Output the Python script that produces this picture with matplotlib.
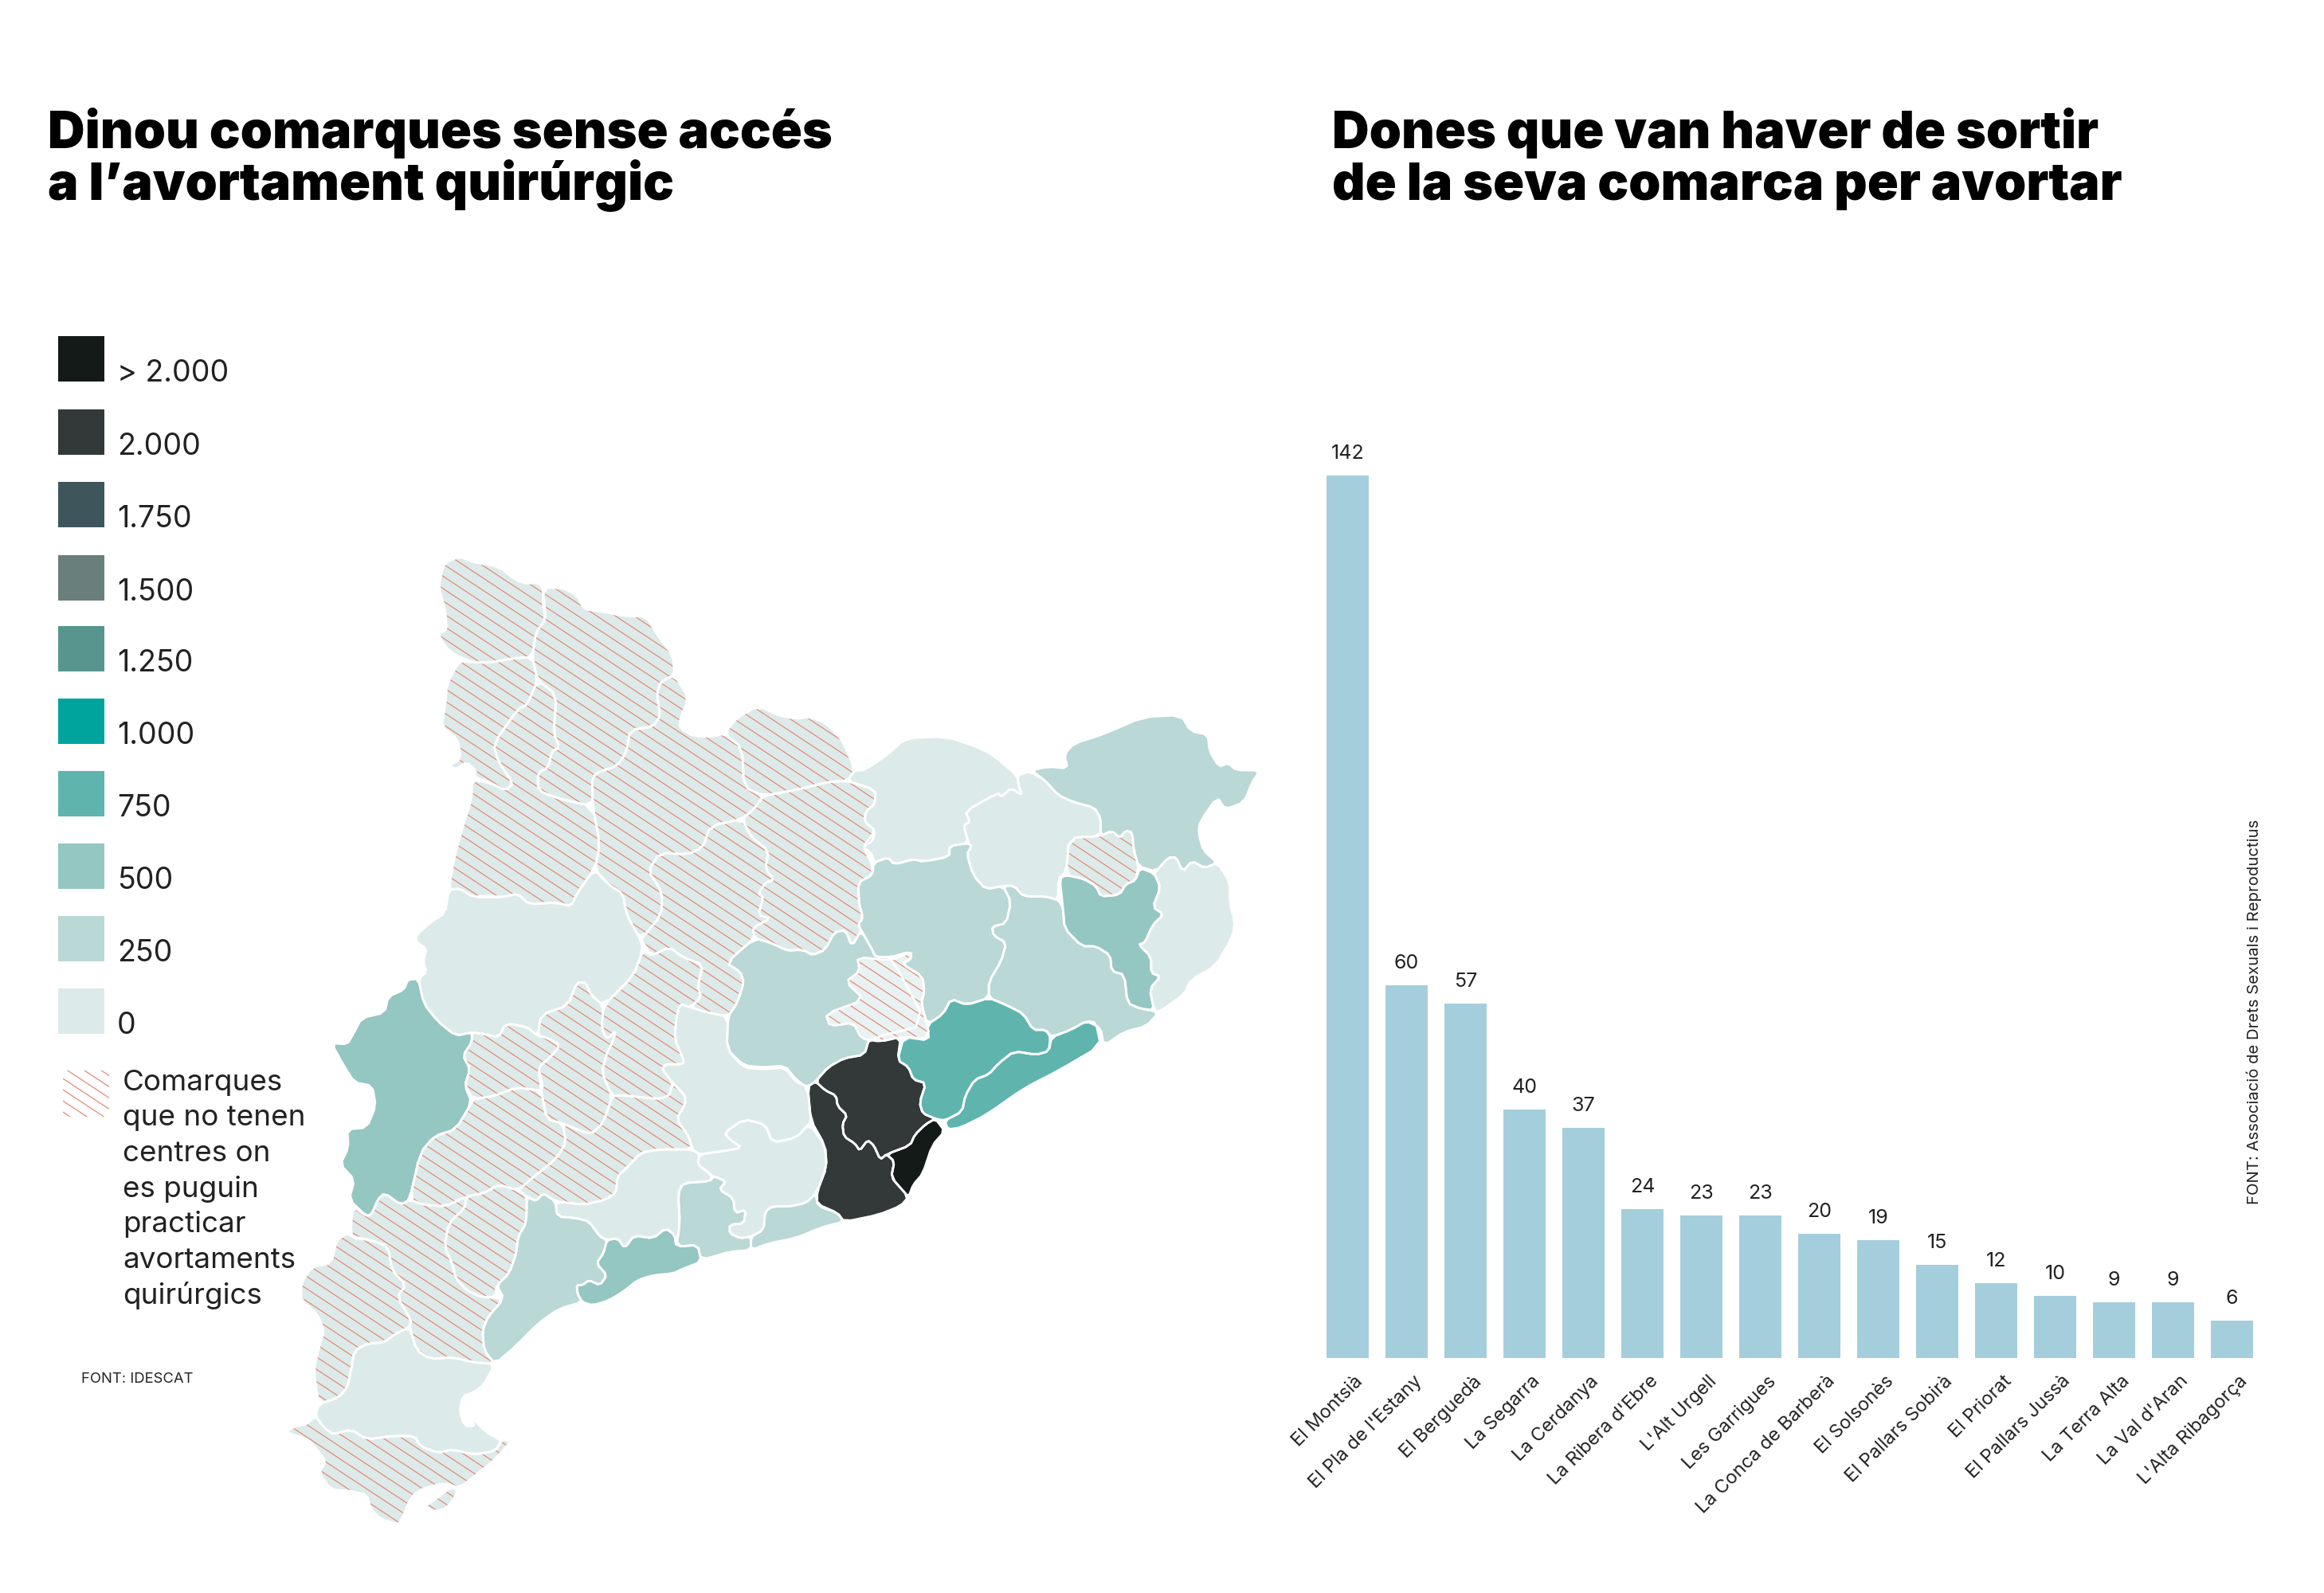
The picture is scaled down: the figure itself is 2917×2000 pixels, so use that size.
import matplotlib
matplotlib.use('Agg')
import matplotlib.pyplot as plt
import numpy as np
from matplotlib.collections import LineCollection
from matplotlib.patches import Polygon, Rectangle

# bar chart data
comarques = ['El Montsià', "El Pla de l'Estany", 'El Berguedà', 'La Segarra', 'La Cerdanya',
             "La Ribera d'Ebre", "L'Alt Urgell", 'Les Garrigues', 'La Conca de Barberà',
             'El Solsonès', 'El Pallars Sobirà', 'El Priorat', 'El Pallars Jussà',
             'La Terra Alta', "La Val d'Aran", "L'Alta Ribagorça"]
dones = [142, 60, 57, 40, 37, 24, 23, 23, 20, 19, 15, 12, 10, 9, 9, 6]

# legend
legend_labels = ['> 2.000', '2.000', '1.750', '1.500', '1.250', '1.000', '750', '500', '250', '0']
legend_colors = ['#141a18', '#333838', '#3e555c', '#697f7b', '#59958f', '#00a49c', '#5fb4ae', '#94c6c2', '#b9d8d6', '#dcebea']
legend_note = ['Comarques', 'que no tenen', 'centres on', 'es puguin', 'practicar', 'avortaments', 'quirúrgics']

C0, C250, C500, C750, C2000, CMAX = '#dcebea', '#b9d8d6', '#94c6c2', '#5fb4ae', '#333838', '#141a18'
HATCH = '#e58a75'

# map outlines, three sets of local coordinates
# north-west part
val_aran = [(490,60),(530,42),(570,58),(640,70),(690,110),(720,118),(750,115),(765,130),(765,180),(773,218),(745,255),(735,325),(680,328),(620,340),(570,340),(520,320),(490,295),(470,258),(495,250),(490,190),(472,130),(480,85)]
alta_ribagorca = [(530,335),(570,340),(620,340),(680,328),(735,325),(750,390),(720,460),(695,470),(625,570),(640,620),(682,680),(660,700),(620,680),(570,660),(578,645),(550,620),(520,640),(500,630),(535,610),(525,555),(480,520),(490,460),(495,400)]
pallars_jussa = [(750,390),(803,430),(795,540),(812,578),(790,590),(780,635),(750,650),(752,700),(800,720),(905,745),(925,850),(910,920),(860,990),(845,1025),(800,1015),(725,1020),(695,990),(650,1000),(610,995),(570,1000),(530,975),(500,980),(515,890),(540,800),(565,720),(565,670),(620,680),(660,700),(682,680),(640,620),(625,570),(695,470),(720,460)]
pallars_sobira = [(765,130),(820,130),(860,150),(880,190),(920,195),(1000,210),(1055,210),(1085,260),(1130,320),(1135,375),(1095,395),(1085,430),(1095,490),(1075,520),(1010,530),(1000,590),(975,630),(915,650),(903,670),(905,745),(800,720),(752,700),(750,650),(780,635),(790,590),(812,578),(795,540),(803,430),(750,390),(735,325),(745,255),(773,218)]
alt_urgell = [(1135,375),(1175,440),(1150,500),(1150,525),(1190,548),(1240,548),(1275,540),(1325,580),(1330,690),(1385,715),(1360,750),(1325,780),(1235,800),(1215,860),(1170,880),(1095,875),(1060,925),(1100,985),(1098,1050),(1040,1120),(1000,1050),(990,990),(950,965),(912,925),(925,850),(905,745),(903,670),(915,650),(975,630),(1000,590),(1010,530),(1075,520),(1095,490),(1085,430),(1095,395)]
cerdanya = [(1275,540),(1310,495),(1370,462),(1430,490),(1478,498),(1518,493),(1568,508),(1623,558),(1663,643),(1638,673),(1578,676),(1478,698),(1385,715),(1330,690),(1325,580)]
solsones = [(1385,715),(1478,698),(1578,676),(1640,673),(1728,698),(1726,738),(1698,758),(1693,788),(1728,813),(1718,843),(1688,858),(1718,908),(1718,938),(1673,958),(1676,1018),(1688,1058),(1673,1078),(1683,1093),(1653,1138),(1633,1093),(1598,1098),(1568,1148),(1528,1163),(1498,1148),(1450,1150),(1410,1130),(1360,1115),(1355,1085),(1405,1060),(1370,1050),(1385,1000),(1370,990),(1390,960),(1415,950),(1390,920),(1400,870),(1350,830),(1325,780),(1360,750)]
segarra = [(1325,780),(1350,830),(1400,870),(1390,920),(1415,950),(1390,960),(1370,990),(1385,1000),(1370,1050),(1405,1060),(1355,1085),(1360,1115),(1280,1185),(1320,1210),(1330,1240),(1310,1300),(1285,1335),(1230,1325),(1180,1310),(1210,1280),(1200,1250),(1215,1190),(1160,1170),(1120,1140),(1070,1165),(1045,1125),(1040,1120),(1098,1050),(1100,985),(1060,925),(1095,875),(1170,880),(1215,860),(1235,800)]
noguera = [(500,980),(530,975),(570,1000),(650,1000),(695,990),(725,1020),(800,1015),(845,1025),(860,990),(910,920),(950,965),(990,990),(1000,1050),(1040,1120),(1045,1150),(1020,1220),(935,1305),(900,1275),(885,1240),(860,1240),(835,1305),(760,1330),(750,1390),(720,1365),(660,1355),(640,1395),(600,1385),(565,1380),(520,1390),(470,1350),(430,1300),(415,1230),(438,1210),(428,1180),(438,1145),(408,1125),(410,1105),(450,1070),(490,1045)]
anoia = [(1280,1185),(1360,1115),(1410,1130),(1450,1150),(1498,1148),(1528,1163),(1568,1148),(1598,1098),(1633,1093),(1653,1138),(1683,1093),(1718,1148),(1728,1168),(1778,1168),(1893,1358),(1708,1398),(1693,1443),(1628,1453),(1578,1478),(1538,1518),(1513,1533),(1475,1519),(1445,1479),(1385,1484),(1330,1479),(1282,1429),(1285,1335),(1310,1300),(1330,1240),(1320,1210)]
# south-west part
segria = [(415,-159),(385,-157),(375,-129),(330,-109),(320,-64),(255,-49),(230,-1),(215,26),(170,23),(205,90),(235,140),(285,150),(295,210),(270,275),(215,280),(218,335),(195,385),(235,430),(220,490),(270,540),(285,530),(300,490),(320,470),(365,505),(390,490),(420,350),(460,300),(520,280),(565,200),(545,150),(560,100),(540,60),(565,20),(565,-9),(520,1),(470,-39),(430,-89)]
garrigues = [(565,-9),(600,-4),(640,6),(660,-34),(720,-24),(750,1),(775,6),(815,30),(780,70),(752,95),(765,150),(760,165),(690,155),(630,180),(570,190),(545,150),(560,100),(540,60),(565,20)]
urgell = [(760,-59),(835,-84),(860,-149),(885,-149),(900,-114),(935,-84),(930,-19),(945,11),(970,-14),(960,21),(945,51),(930,111),(960,181),(935,260),(900,295),(860,280),(820,262),(775,250),(760,165),(752,95),(780,70),(815,30),(775,6),(750,1)]
pla_urgell = [(935,-84),(1020,-169),(1045,-239),(1070,-224),(1120,-249),(1160,-219),(1215,-199),(1200,-139),(1210,-109),(1180,-79),(1150,-89),(1140,-49),(1135,11),(1160,71),(1160,86),(1110,86),(1100,101),(1130,141),(1120,180),(1090,190),(985,178),(960,181),(930,111),(945,51),(960,21),(970,-14),(945,11),(930,-19)]
conca = [(960,181),(985,178),(1090,190),(1120,180),(1130,141),(1165,180),(1165,205),(1140,250),(1175,300),(1185,340),(1090,340),(1040,350),(1000,395),(975,420),(970,470),(940,490),(880,505),(800,495),(765,470),(745,495),(720,480),(695,462),(735,425),(800,370),(830,320),(820,262),(860,280),(900,295),(935,260)]
ribera = [(570,190),(630,180),(690,155),(760,165),(775,250),(820,262),(830,320),(800,370),(735,425),(695,462),(640,445),(600,470),(550,480),(490,510),(430,505),(390,490),(420,350),(460,300),(520,280),(565,200)]
priorat = [(550,480),(600,470),(640,445),(695,462),(720,480),(718,560),(695,600),(690,650),(670,710),(635,745),(630,780),(590,780),(550,760),(520,725),(510,680),(488,630),(500,560),(545,515)]
terra_alta = [(390,490),(430,505),(490,510),(550,480),(545,515),(500,560),(488,630),(510,680),(520,725),(550,760),(590,780),(655,785),(610,840),(595,880),(600,940),(630,980),(570,975),(510,960),(450,965),(410,940),(390,870),(395,850),(355,780),(380,745),(340,700),(330,630),(280,610),(230,605),(225,575),(230,510),(270,540),(285,530),(300,490),(320,470),(365,505)]
matarranya = [(230,600),(280,610),(330,630),(340,700),(380,745),(355,780),(395,850),(390,870),(350,890),(320,915),(270,920),(235,940),(225,1000),(215,1050),(190,1080),(135,1100),(120,1000),(135,930),(150,880),(130,830),(85,790),(85,740),(115,690),(170,680),(185,610),(215,590)]
baix_ebre = [(135,1100),(190,1080),(215,1050),(225,1000),(235,940),(270,920),(320,915),(350,890),(390,870),(410,940),(450,965),(510,960),(570,975),(630,980),(600,1040),(570,1065),(540,1075),(530,1120),(545,1165),(575,1165),(555,1125),(600,1180),(650,1210),(630,1240),(570,1250),(510,1235),(470,1245),(420,1225),(405,1195),(340,1195),(270,1205),(225,1175),(175,1190),(150,1170),(125,1135)]
montsia = [(125,1135),(150,1170),(175,1190),(225,1175),(270,1205),(340,1195),(405,1195),(420,1225),(470,1245),(510,1235),(570,1250),(630,1240),(650,1205),(675,1210),(635,1260),(590,1300),(530,1350),(490,1335),(430,1350),(395,1375),(365,1450),(355,1458),(305,1440),(280,1410),(270,1370),(220,1358),(170,1355),(135,1305),(155,1270),(130,1235),(105,1205),(60,1190),(45,1180),(70,1165),(100,1160)]
delta = [(510,1345),(525,1365),(495,1410),(460,1420),(432,1405),(460,1385)]
baix_camp_sud = [(655,785),(635,745),(670,710),(690,650),(695,600),(718,560),(720,480),(745,495),(765,470),(800,495),(805,540),(860,545),(895,555),(925,600),(945,610),(935,650),(915,680),(945,715),(925,745),(895,730),(875,745),(860,745),(862,770),(875,795),(810,815),(750,860),(690,925),(630,980),(600,940),(595,880),(610,840)]
baix_camp = [(945,610),(975,605),(995,635),(1020,597),(1075,605),(1110,575),(1135,595),(1140,630),(1200,625),(1210,675),(1160,695),(1130,710),(1075,715),(1030,730),(990,765),(950,790),(905,805),(875,795),(862,770),(860,745),(875,745),(895,730),(925,745),(945,715),(915,680),(935,650)]
alt_camp = [(800,495),(880,505),(940,490),(970,470),(975,420),(1000,395),(1040,350),(1090,340),(1185,340),(1205,355),(1200,385),(1240,415),(1235,435),(1160,440),(1145,470),(1150,560),(1140,630),(1135,595),(1110,575),(1075,605),(1020,597),(995,635),(975,605),(945,610),(925,600),(895,555),(860,545),(805,540)]
tarragones = [(1145,470),(1160,440),(1235,435),(1245,420),(1280,435),(1260,460),(1300,485),(1305,530),(1335,520),(1330,560),(1290,565),(1290,590),(1320,605),(1350,600),(1350,640),(1290,645),(1210,670),(1200,625),(1140,630),(1150,560)]
garraf = [(1350,600),(1385,580),(1390,525),(1410,510),(1460,510),(1510,470),(1538,445),(1545,480),(1608,499),(1628,524),(1558,539),(1478,569),(1400,620),(1350,640)]
alt_penedes = [(1205,355),(1270,345),(1325,335),(1290,310),(1275,290),(1330,250),(1390,265),(1410,320),(1477,305),(1518,249),(1568,309),(1573,369),(1543,439),(1510,470),(1460,510),(1410,510),(1390,525),(1385,580),(1350,600),(1320,605),(1290,590),(1290,565),(1330,560),(1335,520),(1305,530),(1300,485),(1260,460),(1280,435),(1245,420),(1235,415),(1200,385)]
urgell_sud = [(1130,141),(1100,101),(1110,86),(1160,86),(1160,71),(1135,11),(1140,-49),(1150,-89),(1180,-79),(1230,-64),(1285,-54),(1282,40),(1330,90),(1385,95),(1445,90),(1475,130),(1513,148),(1523,239),(1518,249),(1477,305),(1410,320),(1390,265),(1330,250),(1275,290),(1290,310),(1325,335),(1270,345),(1205,355),(1185,340),(1175,300),(1140,250),(1165,205),(1165,180)]
# eastern part
bages = [(245,455),(290,440),(310,460),(370,445),(400,452),(485,438),(485,408),(545,400),(555,410),(540,430),(560,490),(600,530),(655,520),(680,565),(665,625),(620,635),(625,660),(665,680),(650,730),(610,790),(610,835),(540,855),(490,838),(465,880),(415,910),(395,850),(405,820),(400,775),(335,740),(365,725),(360,705),(300,720),(250,720),(240,700),(205,645),(195,630),(210,610),(198,570),(195,510),(240,490)]
bergueda = [(160,225),(185,195),(215,195),(290,150),(345,105),(470,100),(560,125),(620,150),(700,210),(705,240),(715,265),(680,245),(650,270),(640,258),(535,310),(550,340),(530,350),(545,400),(485,408),(485,438),(400,452),(370,445),(310,460),(290,440),(245,455),(240,430),(210,410),(250,365),(215,340),(220,310),(248,290),(250,250)]
osona = [(700,210),(740,198),(790,225),(830,265),(880,285),(945,300),(965,330),(965,380),(865,385),(855,480),(830,500),(830,560),(790,550),(720,550),(690,520),(655,520),(600,530),(560,490),(540,430),(555,410),(545,400),(530,350),(550,340),(535,310),(640,258),(650,270),(680,245),(715,265),(705,240)]
alt_emporda = [(745,195),(800,185),(860,190),(850,150),(880,120),(970,95),(1100,45),(1220,40),(1250,85),(1305,95),(1310,140),(1340,185),(1370,175),(1395,195),(1470,195),(1445,230),(1420,285),(1360,305),(1335,270),(1280,340),(1275,370),(1290,420),(1335,455),(1295,470),(1255,450),(1225,480),(1205,440),(1180,440),(1140,480),(1085,465),(1070,420),(1065,370),(1045,365),(1025,385),(1000,365),(965,380),(965,330),(945,300),(880,285),(830,265),(790,225)]
pla_estany = [(865,385),(965,380),(1000,365),(1025,385),(1045,365),(1065,370),(1070,420),(1085,465),(1075,505),(1045,515),(1025,545),(965,550),(950,520),(910,500),(855,490)]
girones = [(835,500),(855,490),(910,500),(950,520),(965,550),(1025,545),(1045,515),(1075,505),(1090,470),(1135,485),(1155,525),(1130,580),(1165,600),(1130,630),(1105,680),(1085,685),(1125,720),(1125,765),(1155,775),(1120,810),(1135,870),(1090,865),(1050,850),(1040,770),(1000,760),(995,715),(950,690),(905,690),(850,640),(845,580)]
baix_emporda = [(1140,480),(1180,440),(1205,440),(1225,480),(1255,450),(1295,470),(1335,455),(1375,510),(1375,570),(1390,620),(1385,660),(1330,745),(1250,785),(1230,825),(1150,875),(1135,870),(1120,810),(1155,775),(1125,765),(1125,720),(1085,685),(1105,680),(1130,630),(1165,600),(1130,580),(1155,525),(1135,485)]
selva = [(610,835),(610,790),(650,730),(665,680),(625,660),(620,635),(665,625),(680,565),(655,520),(690,520),(720,550),(790,550),(830,560),(845,580),(850,640),(905,690),(950,690),(995,715),(1000,760),(1040,770),(1050,850),(1090,865),(1150,875),(1110,915),(1040,930),(975,970),(965,920),(920,900),(870,925),(810,945),(790,925),(750,925),(720,880),(665,855)]
valles_or = [(415,910),(465,880),(490,838),(540,855),(610,835),(665,855),(720,880),(750,925),(790,925),(805,945),(800,985),(760,995),(690,985),(640,1020),(610,1050),(565,1065),(535,1110),(525,1155),(470,1180),(440,1175),(400,1160),(390,1130),(410,1075),(370,1065),(355,1030),(320,1010),(340,945),(420,955)]
maresme = [(810,945),(870,925),(920,900),(950,905),(965,970),(830,1040),(720,1090),(600,1165),(520,1200),(480,1205),(470,1180),(525,1155),(535,1110),(565,1065),(610,1050),(640,1020),(690,985),(760,995),(800,985)]
valles_oc = [(230,950),(265,958),(330,945),(320,1010),(355,1030),(370,1065),(410,1075),(390,1130),(400,1160),(440,1175),(410,1190),(375,1220),(360,1250),(285,1275),(265,1290),(245,1250),(225,1235),(200,1265),(185,1245),(150,1225),(145,1190),(160,1165),(130,1140),(125,1110),(90,1095),(60,1070),(100,1030),(150,1005),(215,995)]
baix_llob = [(35,1085),(60,1070),(90,1095),(125,1110),(130,1140),(160,1165),(145,1190),(150,1225),(185,1245),(200,1265),(225,1235),(245,1250),(265,1290),(285,1275),(310,1295),(300,1340),(355,1395),(330,1420),(260,1445),(150,1465),(130,1440),(65,1415),(65,1380),(95,1310),(90,1250),(45,1180)]
barcelones = [(285,1275),(360,1250),(375,1220),(410,1190),(440,1175),(470,1210),(430,1250),(400,1330),(370,1360),(355,1395),(330,1370),(300,1340),(310,1295)]
moianes = [(192,720),(300,730),(365,705),(360,725),(335,740),(400,775),(405,820),(395,850),(425,950),(330,945),(265,958),(205,950),(180,905),(105,915),(92,880),(215,840),(155,790),(200,760)]

# outline, part of the map, fill, hatched
regions = [
    (val_aran, 'nw', C0, True), (alta_ribagorca, 'nw', C0, True), (pallars_jussa, 'nw', C0, True),
    (pallars_sobira, 'nw', C0, True), (alt_urgell, 'nw', C0, True), (cerdanya, 'nw', C0, True),
    (solsones, 'nw', C0, True), (segarra, 'nw', C0, True), (noguera, 'nw', C0, False), (anoia, 'nw', C250, False),
    (segria, 'sw', C500, False), (garrigues, 'sw', C0, True), (urgell, 'sw', C0, True), (pla_urgell, 'sw', C0, True),
    (conca, 'sw', C0, True), (ribera, 'sw', C0, True), (priorat, 'sw', C0, True), (terra_alta, 'sw', C0, True),
    (matarranya, 'sw', C0, True), (baix_ebre, 'sw', C0, False), (montsia, 'sw', C0, True), (delta, 'sw', C0, True),
    (baix_camp_sud, 'sw', C250, False), (baix_camp, 'sw', C500, False), (alt_camp, 'sw', C0, False),
    (tarragones, 'sw', C250, False), (garraf, 'sw', C250, False), (alt_penedes, 'sw', C0, False), (urgell_sud, 'sw', C0, False),
    (bages, 'e', C250, False), (bergueda, 'e', C0, False), (osona, 'e', C0, False), (alt_emporda, 'e', C250, False),
    (pla_estany, 'e', C0, True), (girones, 'e', C500, False), (baix_emporda, 'e', C0, False), (selva, 'e', C250, False),
    (valles_or, 'e', C750, False), (maresme, 'e', C750, False), (valles_oc, 'e', C2000, False),
    (baix_llob, 'e', C2000, False), (barcelones, 'e', CMAX, False), (moianes, 'e', '#e9f2f2', True),
]

XS, YS = 700 / 1568, 700 / 1568   # scale of the nw trace
XE, YW = 620 / 1568, 660 / 1568   # x scale of the east trace, y scale of the sw trace
SPLIT = 1478                      # x where nw/sw trace hands over to the east trace


def to_px(pts, part):
    pts = np.array(pts, dtype=float)
    u, v = pts[:, 0], pts[:, 1]
    if part == 'e':
        return np.column_stack([1000 + XE * u, 880 + YS * v])
    x = np.where(u < SPLIT, 340 + XS * u, 1000 + XE * (u - SPLIT))
    if part == 'nw':
        return np.column_stack([x, 680 + YS * v])
    y = np.where((v < 0) | (u >= SPLIT), 1300 + YS * v, 1300 + YW * v)
    return np.column_stack([x, y])


def smooth(pts):
    # one round of corner cutting, the traced outlines are a bit angular
    nxt = np.roll(pts, -1, axis=0)
    out = np.empty((len(pts) * 2, 2))
    out[0::2] = 0.8 * pts + 0.2 * nxt
    out[1::2] = 0.2 * pts + 0.8 * nxt
    return out


def hatch_lines(x0, x1, y0, y1, slope=0.66, step=15.5):
    segs = []
    c = y0 - slope * x1
    c = np.floor(c / step) * step
    while c < y1 - slope * x0:
        segs.append([(x0, c + slope * x0), (x1, c + slope * x1)])
        c += step
    return segs


fig = plt.figure(figsize=(29.17, 20), dpi=100)
ax = fig.add_axes([0, 0, 1, 1])
ax.set_xlim(0, 2917)
ax.set_ylim(2000, 0)
ax.axis('off')

BODY = 'Inter'

ax.text(60, 186, 'Dinou comarques sense accés', fontsize=46.4, family='Inter', weight='black', color='black')
ax.text(60, 251, 'a l’avortament quirúrgic', fontsize=46.4, family='Inter', weight='black', color='black')
ax.text(1672, 186, 'Dones que van haver de sortir', fontsize=46.4, family='Inter', weight='black', color='black')
ax.text(1672, 251, 'de la seva comarca per avortar', fontsize=46.4, family='Inter', weight='black', color='black')

# map
for outline, part, fill, hatched in regions:
    xy = smooth(to_px(outline, part))
    ax.add_patch(Polygon(xy, closed=True, facecolor=fill, edgecolor='none', zorder=2))
    if hatched:
        clip = Polygon(xy, closed=True, facecolor='none', edgecolor='none', transform=ax.transData)
        ax.add_patch(clip)
        lc = LineCollection(hatch_lines(xy[:, 0].min(), xy[:, 0].max(), xy[:, 1].min(), xy[:, 1].max()),
                            colors=HATCH, linewidths=0.9, zorder=3)
        ax.add_collection(lc)
        lc.set_clip_path(clip)
    ax.add_patch(Polygon(xy, closed=True, facecolor='none', edgecolor='white', linewidth=2.0, zorder=4, joinstyle='round'))

# legend
swatch_tops = [422, 514, 605, 697, 786, 877, 968, 1059, 1150, 1241]
for top, label, color in zip(swatch_tops, legend_labels, legend_colors):
    ax.add_patch(Rectangle((73, top), 58, 57, facecolor=color, edgecolor='none'))
    ax.text(147, top + 57, label, fontsize=27, family=BODY, color='#222222', va='baseline')
swatch = Rectangle((79, 1344), 58, 58, facecolor='none', edgecolor='none')
ax.add_patch(swatch)
lc = LineCollection(hatch_lines(79, 137, 1344, 1402, step=14), colors=HATCH, linewidths=0.9)
ax.add_collection(lc)
lc.set_clip_path(swatch)
for i, line in enumerate(legend_note):
    ax.text(154, 1368.5 + i * 44.7, line, fontsize=26.5, family=BODY, color='#222222', va='baseline')
ax.text(102, 1736, 'FONT: IDESCAT', fontsize=13.3, family=BODY, color='#222222', va='baseline')

# bars, y axis runs from pixel row 1705 up to row 597
bar_ax = fig.add_axes([1654.5 / 2917, (2000 - 1705) / 2000, 1184 / 2917, (1705 - 597) / 2000])
bar_ax.set_xlim(-0.5, 15.5)
bar_ax.set_ylim(0, 142)
bar_ax.axis('off')
pos = np.arange(len(dones))
bar_ax.bar(pos, dones, width=0.72, color='#a5cedc')
for p, v, name in zip(pos, dones, comarques):
    bar_ax.annotate(str(v), (p, v), xytext=(0, 11.5), textcoords='offset points', ha='center', va='bottom',
                    fontsize=18, family=BODY, color='#222222', annotation_clip=False)
    bar_ax.annotate(name, (p, 0), xytext=(6, -13), textcoords='offset points', ha='right', va='top',
                    rotation=45, rotation_mode='anchor', fontsize=17, family=BODY, color='#222222',
                    annotation_clip=False)

ax.text(2829, 1270, 'FONT: Associació de Drets Sexuals i Reproductius', rotation=90, ha='center', va='center',
        fontsize=14.6, family=BODY, color='#222222')

fig.savefig('out.png', dpi=100, facecolor='white')
